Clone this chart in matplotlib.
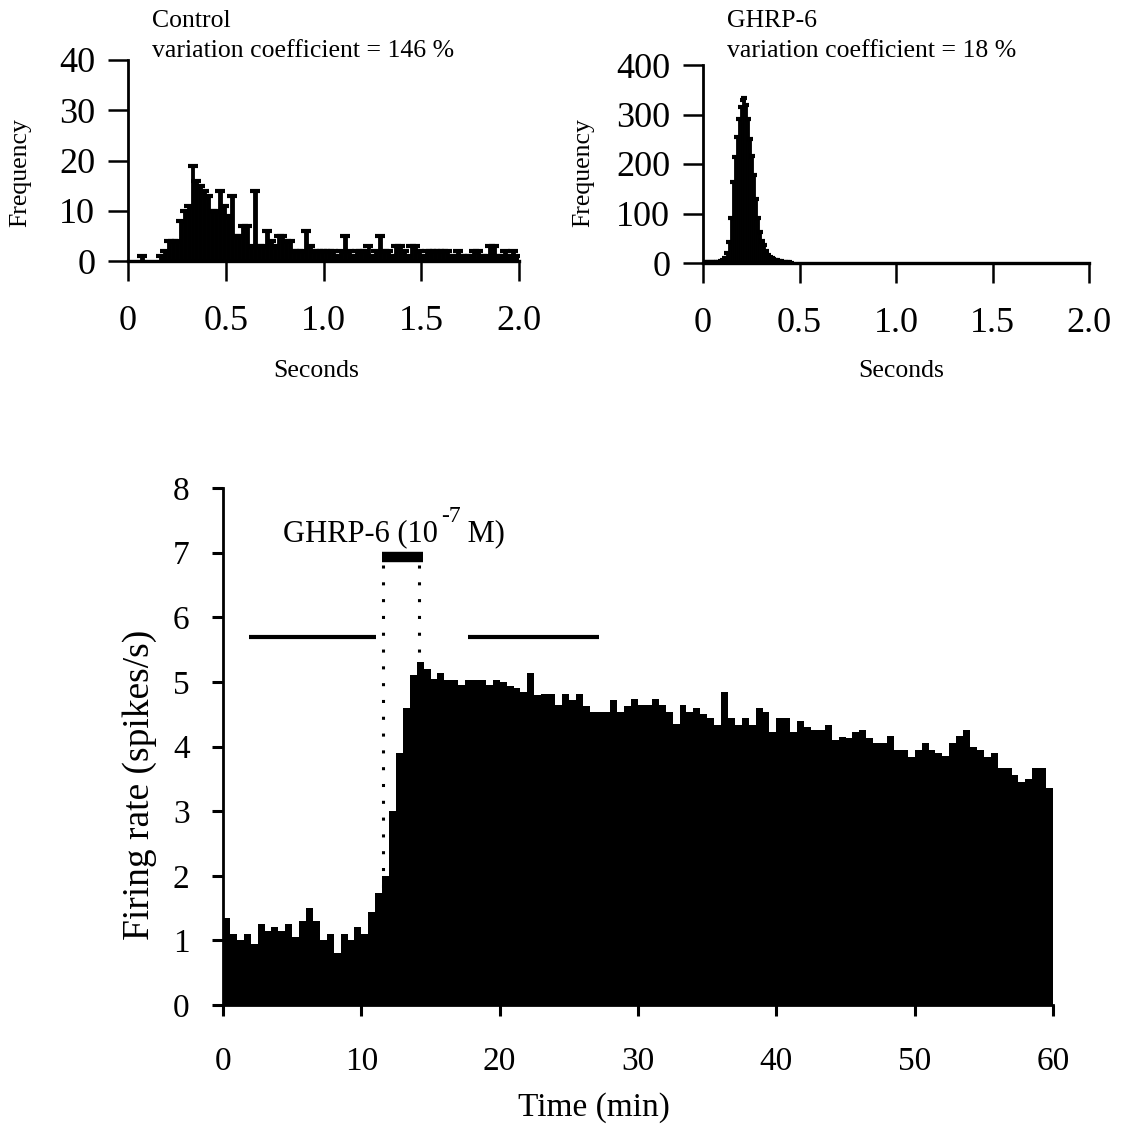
import numpy as np
import matplotlib
matplotlib.use("Agg")
import matplotlib.pyplot as plt
from matplotlib.transforms import offset_copy

plt.rcParams['font.family'] = ['Liberation Serif', 'DejaVu Serif']

W, H = 1125, 1139

# --------------------------------------------------------------------------- #
# Interspike interval histograms (bin start = index * bin width, seconds)
control_bin = 0.02
control_counts = [0, 0, 0, 1, 0, 0, 0, 0, 1, 2,
                  4, 4, 4, 8, 10, 11, 19, 16, 15, 14,
                  13, 10, 10, 14, 11, 9, 13, 5, 5, 7,
                  7, 3, 14, 3, 3, 6, 4, 3, 5, 5,
                  4, 4, 2, 2, 2, 6, 3, 2, 2, 2,
                  2, 2, 2, 1, 2, 5, 2, 1, 2, 2,
                  2, 3, 1, 2, 5, 2, 2, 1, 3, 3,
                  2, 1, 3, 3, 2, 1, 2, 2, 2, 2,
                  2, 2, 1, 1, 2, 1, 1, 1, 2, 2,
                  1, 1, 3, 3, 1, 1, 2, 1, 2, 1]

ghrp_bin = 0.01
ghrp_counts = [3, 3, 3, 3, 3, 3, 3, 3, 3, 4,
               6, 10, 20, 43, 90, 163, 215, 255, 290, 315,
               330, 333, 320, 291, 251, 217, 177, 130, 90, 63,
               45, 36, 25, 16, 12, 10, 8, 7, 6, 5,
               4, 3, 3, 2, 2, 1]

# Firing rate, 30 s bins from 0 to 60 min
rate_bin = 0.5
firing_rate = [1.35, 1.1, 1.0, 1.1, 0.95, 1.25, 1.15, 1.2, 1.15, 1.25,
               1.05, 1.3, 1.5, 1.3, 1.0, 1.1, 0.8, 1.1, 1.0, 1.2,
               1.1, 1.44, 1.73, 2.0, 3.0, 3.9, 4.6, 5.1,
               5.3, 5.2, 5.05, 5.13, 5.03, 5.03, 4.95, 5.03, 5.03, 5.03,
               4.95, 5.03, 5.0, 4.93, 4.9, 4.85, 5.13, 4.8, 4.82, 4.82,
               4.64, 4.82, 4.72, 4.82, 4.62, 4.54, 4.54, 4.54, 4.72, 4.54,
               4.62,
               4.74, 4.64, 4.64, 4.74, 4.64, 4.54, 4.35, 4.64, 4.54, 4.6,
               4.5, 4.44, 4.33, 4.85, 4.44, 4.33, 4.44, 4.33, 4.6, 4.54,
               4.23, 4.44, 4.44, 4.23, 4.4, 4.3, 4.25, 4.25, 4.33, 4.1,
               4.15,
               4.13, 4.23, 4.26, 4.13, 4.05, 4.05, 4.16, 3.95, 3.95, 3.84,
               3.95, 4.05, 3.95, 3.9, 3.85, 4.05, 4.16, 4.26, 4.0, 3.95,
               3.84, 3.9, 3.66, 3.66, 3.56, 3.45, 3.5, 3.67, 3.67, 3.36]

drug_on, drug_off = 11.57, 14.17
bar_start, bar_end = 11.5, 14.46
control_period = (1.9, 11.05)
drug_period = (17.7, 27.2)


# --------------------------------------------------------------------------- #
fig = plt.figure(figsize=(W / 100, H / 100), dpi=100)


def px_axes(x0, y0, x1, y1):
    # box in pixels, measured from the top-left corner
    return fig.add_axes([x0 / W, 1 - y1 / H, (x1 - x0) / W, (y1 - y0) / H])


def isi_panel(ax, counts, width, ymax, yticks, capsize):
    counts = np.array(counts)
    centers = np.arange(len(counts)) * width + width / 2
    ax.bar(centers, counts, width=width, color='black', linewidth=0.6,
           edgecolor='black')
    nz = counts > 0
    ax.plot(centers[nz], counts[nz], linestyle='none', marker='_',
            markersize=capsize, mew=3, color='black')
    ax.set_xlim(0, 2.0)
    ax.set_ylim(0, ymax)
    ax.set_xticks([0, 0.5, 1.0, 1.5, 2.0], ['0', '0.5', '1.0', '1.5', '2.0'])
    ax.set_yticks(yticks)
    for s in ['top', 'right']:
        ax.spines[s].set_visible(False)
    ax.spines['left'].set_linewidth(2.0)
    ax.spines['bottom'].set_linewidth(2.4)
    ax.tick_params(axis='both', direction='out', length=14.5, width=1.8,
                   labelsize=26)
    ax.tick_params(axis='x', pad=17)
    ax.tick_params(axis='y', pad=9)


ax1 = px_axes(128, 60, 519, 261)
isi_panel(ax1, control_counts, control_bin, 40, [0, 10, 20, 30, 40], 7)
ax2 = px_axes(703, 65, 1089, 263)
isi_panel(ax2, ghrp_counts, ghrp_bin, 400, [0, 100, 200, 300, 400], 5)

fs = 18.5
fig.text(152 / W, 1 - 27 / H, 'Control', fontsize=fs, va='baseline')
fig.text(152 / W, 1 - 57 / H, 'variation coefficient = 146 %', fontsize=fs,
         va='baseline')
fig.text(727 / W, 1 - 27 / H, 'GHRP-6', fontsize=fs, va='baseline')
fig.text(727 / W, 1 - 57 / H, 'variation coefficient = 18 %', fontsize=fs,
         va='baseline')
fig.text(20 / W, 1 - 173 / H, 'Frequency', fontsize=fs, rotation=90,
         ha='center', va='center')
fig.text(583 / W, 1 - 173 / H, 'Frequency', fontsize=fs, rotation=90,
         ha='center', va='center')
fig.text(316 / W, 1 - 377 / H, 'Seconds', fontsize=fs, ha='center',
         va='baseline')
fig.text(901 / W, 1 - 377 / H, 'Seconds', fontsize=fs, ha='center',
         va='baseline')

# --------------------------------------------------------------------------- #
ax3 = px_axes(223, 488, 1053, 1005)
edges = np.arange(len(firing_rate) + 1) * rate_bin
ax3.stairs(firing_rate, edges, fill=True, color='black', linewidth=0,
           zorder=2)
ax3.vlines([drug_on, drug_off], 0, 6.85, colors='black', linewidth=2.2,
           linestyles=(0, (1, 4.5)), zorder=1)
ax3.hlines(6.93, bar_start, bar_end, colors='black', linewidth=7.5)
ax3.hlines(5.7, *control_period, colors='black', linewidth=3)
ax3.hlines(5.7, *drug_period, colors='black', linewidth=3)

# drug label: hyphen superscript built from three pieces
t1 = ax3.text(4.34, 7.17, 'GHRP-6 (10', fontsize=22, va='baseline')
fig.canvas.draw()
bb = t1.get_window_extent()
x_px = (bb.x1 - bb.x0) * 72 / fig.dpi
t2 = ax3.text(4.34, 7.17, '-7', fontsize=17, va='baseline',
              transform=offset_copy(ax3.transData, fig, x=x_px + 2, y=14,
                                    units='points'))
bb2 = t2.get_window_extent(fig.canvas.get_renderer())
x2_px = (bb2.x1 - bb.x0) * 72 / fig.dpi
ax3.text(4.34, 7.17, ' M)', fontsize=22, va='baseline',
         transform=offset_copy(ax3.transData, fig, x=x2_px, y=0,
                               units='points'))

ax3.set_xlim(0, 60)
ax3.set_ylim(0, 8)
ax3.set_xticks(np.arange(0, 61, 10))
ax3.set_yticks(np.arange(0, 9, 1))
for s in ['top', 'right']:
    ax3.spines[s].set_visible(False)
ax3.spines['left'].set_linewidth(2.0)
ax3.spines['bottom'].set_linewidth(2.0)
ax3.tick_params(axis='both', direction='out', length=8, width=2.2,
                labelsize=24)
ax3.tick_params(axis='x', pad=22)
ax3.tick_params(axis='y', pad=16)

fig.text(140 / W, 1 - 785 / H, 'Firing rate (spikes/s)', fontsize=27,
         rotation=90, ha='center', va='center')
fig.text(594 / W, 1 - 1108 / H, 'Time (min)', fontsize=24, ha='center',
         va='center')

fig.savefig('out.png', dpi=100)
